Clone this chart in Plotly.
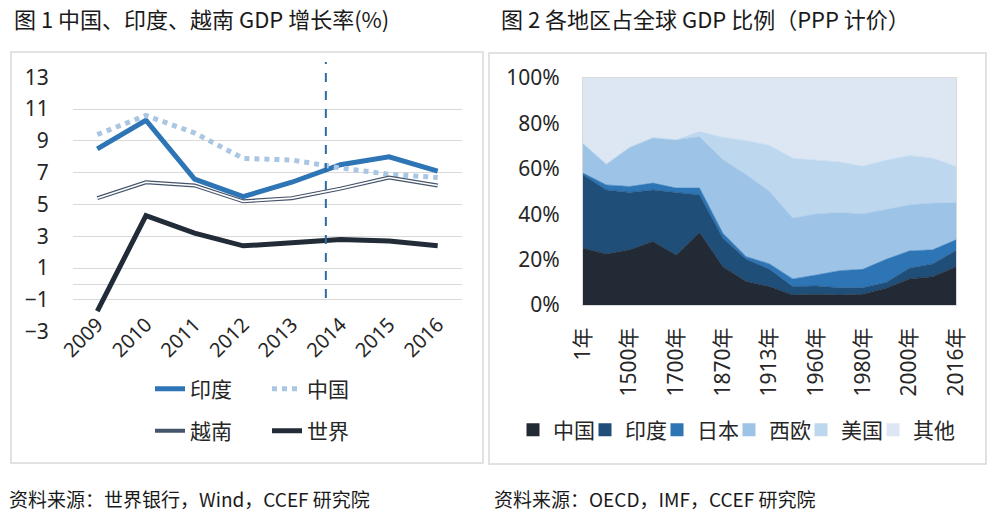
import plotly.graph_objects as go

W, H = 1000, 515

# ---------------- Left chart data: GDP growth (%) ----------------
years = ["2009", "2010", "2011", "2012", "2013", "2014", "2015", "2016"]
india = [8.5, 10.3, 6.6, 5.5, 6.4, 7.5, 8.0, 7.1]
china = [9.4, 10.6, 9.5, 7.9, 7.8, 7.3, 6.9, 6.7]
vietnam = [5.4, 6.4, 6.2, 5.2, 5.4, 6.0, 6.7, 6.2]
world = [-1.7, 4.3, 3.2, 2.4, 2.6, 2.8, 2.7, 2.4]
left_tickvals = [-3, -1, 1, 3, 5, 7, 9, 11, 13]
left_gridvals = [-1, 0, 1, 3, 5, 7, 9, 11, 13]
marker_year_pos = 4.7  # dashed reference line (category index)

# ---------------- Right chart data: share of world GDP (PPP, %) ----------------
periods = ["1年", "1000年", "1500年", "1600年", "1700年", "1820年", "1870年", "1900年",
           "1913年", "1950年", "1960年", "1970年", "1980年", "1990年", "2000年", "2010年", "2016年"]
share_china = [25.0, 22.5, 24.3, 28.0, 22.0, 31.9, 16.9, 10.3, 8.1, 4.4, 4.7, 4.4, 4.7, 7.4, 11.5, 12.5, 16.9]
share_india = [32.4, 28.2, 25.3, 22.7, 27.6, 16.6, 12.5, 9.8, 7.6, 3.7, 3.7, 3.2, 2.9, 2.5, 4.7, 5.6, 7.1]
share_japan = [0.7, 2.2, 2.6, 3.0, 1.9, 3.0, 2.2, 1.2, 2.4, 3.4, 4.8, 7.5, 8.1, 10.2, 7.6, 6.2, 4.7]
share_weurope = [12.9, 9.0, 17.1, 19.9, 21.2, 22.6, 32.4, 36.1, 31.9, 26.7, 26.9, 25.6, 24.4, 22.0, 20.2, 20.5, 16.4]
share_us = [0.3, 0.3, 0.3, 0.2, 0.1, 2.3, 9.8, 15.0, 20.3, 26.4, 23.7, 22.3, 21.0, 21.7, 21.8, 19.9, 15.9]
share_other = [28.7, 37.8, 30.4, 26.2, 27.2, 23.6, 26.2, 27.6, 29.7, 35.4, 36.2, 37.0, 38.9, 36.2, 34.2, 35.3, 39.0]
right_tickvals = periods[::2]
pct_vals = [0, 20, 40, 60, 80, 100]
pct_text = ["0%", "20%", "40%", "60%", "80%", "100%"]

FONT = "Noto Sans, Noto Sans CJK SC, sans-serif"
CJK = "Noto Sans CJK SC, sans-serif"
TXT = "#262626"


def px(x):
    return x / W


def py(y):
    return 1 - y / H


fig = go.Figure()

# ---- left chart traces ----
fig.add_trace(go.Scatter(x=years, y=india, name="印度", mode="lines",
                         line=dict(color="#2E75B6", width=5), legend="legend",
                         xaxis="x", yaxis="y"))
fig.add_trace(go.Scatter(x=years, y=china, name="中国", mode="lines",
                         line=dict(color="#A9C6E3", width=5, dash="dot"), legend="legend",
                         xaxis="x", yaxis="y"))
fig.add_trace(go.Scatter(x=years, y=vietnam, name="越南", mode="lines",
                         line=dict(color="#44546A", width=4), legend="legend2",
                         xaxis="x", yaxis="y"))
fig.add_trace(go.Scatter(x=years, y=vietnam, name="越南", mode="lines", showlegend=False,
                         line=dict(color="#FFFFFF", width=1.6), hoverinfo="skip",
                         xaxis="x", yaxis="y"))
fig.add_trace(go.Scatter(x=years, y=world, name="世界", mode="lines",
                         line=dict(color="#222B38", width=5), legend="legend2",
                         xaxis="x", yaxis="y"))

# ---- right chart traces (stacked areas) ----
areas = [("中国", share_china, "#222A35"),
         ("印度", share_india, "#1F4E79"),
         ("日本", share_japan, "#2E75B6"),
         ("西欧", share_weurope, "#9DC3E6"),
         ("美国", share_us, "#BDD7EE"),
         ("其他", share_other, "#DCE7F3")]
for name, vals, col in areas:
    fig.add_trace(go.Scatter(x=periods, y=vals, name=name, mode="lines",
                             stackgroup="one", line=dict(width=0.6, color=col),
                             fillcolor=col, showlegend=False,
                             xaxis="x2", yaxis="y2"))
for name, vals, col in areas:
    fig.add_trace(go.Scatter(x=[None], y=[None], name=name, mode="markers",
                             marker=dict(symbol="square", size=13, color=col),
                             legend="legend3", xaxis="x2", yaxis="y2"))
# invisible spacer entry so that the last legend label is not clipped
fig.add_trace(go.Scatter(x=[None], y=[None], name=" ", mode="markers",
                         marker=dict(symbol="square", size=1, color="rgba(0,0,0,0)"),
                         legend="legend3", xaxis="x2", yaxis="y2", hoverinfo="skip"))

legend_common = dict(orientation="h", xanchor="left", yanchor="middle",
                     xref="container", yref="container",
                     font=dict(size=21, family=CJK, color=TXT), bgcolor="rgba(0,0,0,0)",
                     itemwidth=30, traceorder="normal")

TICKSIZE = 21

# ---- layout ----
fig.update_layout(
    width=W, height=H,
    margin=dict(l=0, r=0, t=0, b=0, autoexpand=False),
    paper_bgcolor="white", plot_bgcolor="white",
    font=dict(family=FONT, color=TXT, size=18),
    xaxis=dict(type="category", domain=[px(73), px(462)], range=[-0.5, 7.5],
               anchor="free", position=py(302), showgrid=False, showline=False,
               zeroline=False, tickangle=-45, ticks="outside", ticklen=2,
               tickcolor="rgba(0,0,0,0)", tickfont=dict(size=20, color=TXT),
               automargin=False),
    yaxis=dict(domain=[py(331.7), py(77.3)], range=[-3, 13], anchor="x",
               tickmode="array", tickvals=left_tickvals, showgrid=False,
               zeroline=False, showline=False, ticks="outside", ticklen=19,
               tickcolor="rgba(0,0,0,0)", tickfont=dict(size=TICKSIZE, color=TXT),
               automargin=False,
               minor=dict(tickmode="array", tickvals=left_gridvals, showgrid=True,
                          gridcolor="#D9D9D9", gridwidth=1.2, ticklen=0)),
    xaxis2=dict(type="category", domain=[px(583), px(956)], range=[0, 16],
                anchor="y2", tickmode="array", tickvals=right_tickvals,
                ticktext=right_tickvals, tickangle=-90, showgrid=False,
                showline=True, linecolor="#D9D9D9", mirror=True, zeroline=False,
                ticks="outside", ticklen=13, tickcolor="rgba(0,0,0,0)",
                tickfont=dict(size=TICKSIZE, color=TXT, family=FONT), automargin=False),
    yaxis2=dict(domain=[py(305), py(78)], range=[0, 100], anchor="x2",
                tickmode="array", tickvals=pct_vals, ticktext=pct_text,
                showgrid=False, showline=True, linecolor="#D9D9D9", mirror=True,
                zeroline=False, ticks="outside", ticklen=18,
                tickcolor="rgba(0,0,0,0)", tickfont=dict(size=TICKSIZE, color=TXT),
                automargin=False),
    legend=dict(legend_common, x=px(150), y=py(389), entrywidth=72),
    legend2=dict(legend_common, x=px(150), y=py(431), entrywidth=72),
    legend3=dict(legend_common, x=px(513), y=py(430), entrywidth=27),
    shapes=[
        dict(type="rect", xref="paper", yref="paper", x0=px(11), x1=px(483),
             y0=py(463), y1=py(52), line=dict(color="#D9D9D9", width=1.5), layer="below"),
        dict(type="rect", xref="paper", yref="paper", x0=px(489), x1=px(986),
             y0=py(464), y1=py(53), line=dict(color="#D9D9D9", width=1.5), layer="below"),
        dict(type="line", xref="x", yref="paper", x0=marker_year_pos, x1=marker_year_pos,
             y0=py(298), y1=py(62), line=dict(color="#2E6DA4", width=2, dash="dash")),
    ],
    annotations=[
        dict(text="图 1 中国、印度、越南 GDP 增长率(%)", xref="paper", yref="paper",
             x=px(12), y=py(18), xanchor="left", yanchor="middle", showarrow=False,
             font=dict(size=22, family=CJK, color="#1a1a1a")),
        dict(text="图 2 各地区占全球 GDP 比例（PPP 计价）", xref="paper", yref="paper",
             x=px(499), y=py(18), xanchor="left", yanchor="middle", showarrow=False,
             font=dict(size=22, family=CJK, color="#1a1a1a")),
        dict(text="资料来源：世界银行，Wind，CCEF 研究院", xref="paper", yref="paper",
             x=px(7), y=py(498), xanchor="left", yanchor="middle", showarrow=False,
             font=dict(size=19, family=CJK, color="#1a1a1a")),
        dict(text="资料来源：OECD，IMF，CCEF 研究院", xref="paper", yref="paper",
             x=px(492), y=py(498), xanchor="left", yanchor="middle", showarrow=False,
             font=dict(size=19, family=CJK, color="#1a1a1a")),
    ],
)

fig.write_html(
    "out.html",
    config={"displayModeBar": False},
    post_script="document.body.style.margin='0';document.body.style.overflow='hidden';",
)
